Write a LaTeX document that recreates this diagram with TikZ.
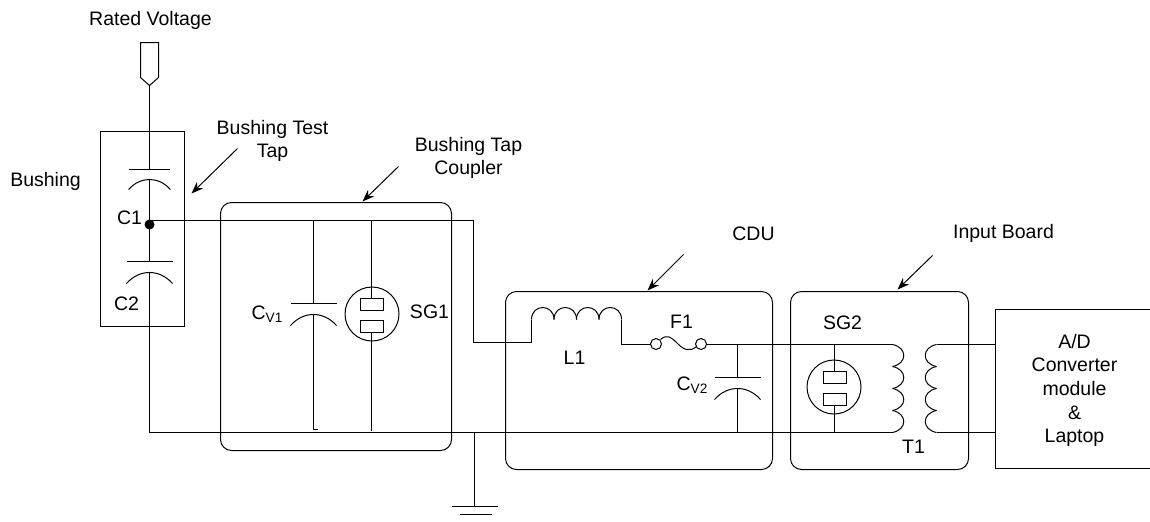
\documentclass[tikz,border=0pt]{standalone}
\usepackage{fontspec}
\setmainfont{Liberation Sans}
\usetikzlibrary{arrows.meta, positioning, calc}
\tikzset{
  lbl/.style={font=\fontsize{9.75}{11.85}\selectfont, align=center, inner sep=0pt},
  boardbox/.style={draw, rounded corners=5.5pt, minimum width=#1, inner sep=0pt, outer sep=0pt},
  gapring/.style={draw, circle, minimum size=27pt, inner sep=0pt, outer sep=0pt},
  gapplate/.style={draw, minimum width=11.5pt, minimum height=6pt, inner sep=0pt, outer sep=0pt},
  fusepin/.style={draw, circle, minimum size=5.5pt, inner sep=0pt, outer sep=0pt},
  pointer/.style={-{Stealth[length=6pt,width=4.5pt]}},
  capsym/.pic={
    \draw (-23,0) -- (23,0);
    \draw (-23,22) .. controls (-10,7.3) and (10,7.3) .. (23,22);
  }
}
\begin{document}
\begin{tikzpicture}[x=0.5pt, y=-0.5pt, line width=0.5pt]
  \useasboundingbox (0,0) rectangle (1150,521);
  \begin{scope}[shift={(-0.5,-0.5)}]

  % boxes
  \node[draw, minimum width=42pt, minimum height=97.5pt, inner sep=0pt, outer sep=0pt] (bushing) at (143,229.5) {};
  \node[boardbox=115.5pt, minimum height=124pt] (coupler) at (336.5,327) {};
  \node[boardbox=133.5pt, minimum height=89pt] (cdu) at (639.5,381) {};
  \node[boardbox=89pt, minimum height=89pt] (board) at (880,381) {};
  \coordinate (adTop) at (996,310);
  \coordinate (adBot) at (996,469);
  \draw (1151,310) -- (adTop) -- (adBot) -- (1151,469);

  % labels
  \node[lbl] (ratedLbl) at (151,21) {Rated Voltage};
  \node[lbl] (bushingLbl) at (46,182) {Bushing};
  \node[lbl] (testTapLbl) at (273,141.5) {Bushing Test\\Tap};
  \node[lbl] (couplerLbl) at (469,158.5) {Bushing Tap\\Coupler};
  \node[lbl] (cduLbl) at (754,234) {CDU};
  \node[lbl] (boardLbl) at (1004,234) {Input Board};
  \node[lbl] (c1Lbl) at (130,218) {C1};
  \node[lbl] (c2Lbl) at (127,304) {C2};
  \node[lbl] (cv1Lbl) at (268,315) {C\textsubscript{V1}};
  \node[lbl] (sg1Lbl) at (430,312) {SG1};
  \node[lbl] (l1Lbl) at (575,358) {L1};
  \node[lbl] (f1Lbl) at (682,322) {F1};
  \node[lbl] (cv2Lbl) at (693,386) {C\textsubscript{V2}};
  \node[lbl] (sg2Lbl) at (843,323) {SG2};
  \node[lbl] (t1Lbl) at (914,447) {T1};
  \node[lbl] (adLbl) at (1075,391) {A/D\\Converter\\module\\\&\\Laptop};

  % pointers
  \coordinate (testTapTail) at (238,149);
  \coordinate (testTapTip) at (192,194);
  \coordinate (couplerTail) at (399,167);
  \coordinate (couplerTip) at (363,202);
  \coordinate (cduTail) at (684,255);
  \coordinate (cduTip) at (648,291);
  \coordinate (boardTail) at (933,256);
  \coordinate (boardTip) at (898,290);
  \draw[pointer] (testTapTail) -- (testTapTip);
  \draw[pointer] (couplerTail) -- (couplerTip);
  \draw[pointer] (cduTail) -- (cduTip);
  \draw[pointer] (boardTail) -- (boardTip);

  % bushing
  \draw (141,43) -- (159,43) -- (159,78) -- (150,86) -- (141,78) -- cycle;
  \coordinate (ratedTip) at (150,86);
  \coordinate (c1Plate) at (150,170);
  \coordinate (c1Arc) at (150,179);
  \coordinate (c2Plate) at (150,262);
  \coordinate (c2Arc) at (150,273);
  \coordinate (tap) at (150,225);
  \coordinate (gndCorner) at (150,433);
  \pic[scale=0.91] at (c1Plate) {capsym};
  \pic at (c2Plate) {capsym};
  \fill (tap) circle (5);
  \draw (ratedTip) -- (c1Plate);
  \draw (c1Arc) -- (tap) -- (c2Plate);
  \draw (c2Arc) -- (gndCorner);

  % tap line and return line
  \coordinate (tapOut) at (150,221);
  \coordinate (tapCorner) at (474,221);
  \coordinate (l1In) at (532,343);
  \coordinate (primBot) at (893,433);
  \draw (tapOut) -- (tapCorner) |- (l1In);
  \draw (gndCorner) -- (primBot);

  % coupler
  \coordinate (cv1Plate) at (314,304);
  \coordinate (cv1Arc) at (314,315);
  \pic at (cv1Plate) {capsym};
  \draw (cv1Plate) -- (tapOut -| cv1Plate);
  \draw (cv1Arc) -- (314,430) -- (318,430);
  \node[gapring] (sg1) at (372.5,314.5) {};
  \node[gapplate] (sg1a) at (372,304.5) {};
  \node[gapplate] (sg1b) at (372,326.5) {};
  \draw (sg1a) -- (sg1a |- tapOut);
  \draw (sg1b) -- (372,431);

  % ground
  \coordinate (gndTap) at (475,433);
  \coordinate (gndBar) at (475,507);
  \draw (gndTap) -- (gndBar);
  \draw (452,507) -- (498,507);
  \draw (460,515) -- (492,515);

  % CDU
  \coordinate (l1Left) at (532,320);
  \coordinate (l1Right) at (622,320);
  \coordinate (l1Out) at (622,345);
  \draw (l1In) -- (l1Left);
  \foreach \i in {0,...,3} {
    \draw ({532+22.5*\i},320) .. controls +(0,-16) and +(0,-16) .. ({532+22.5*(\i+1)},320);
  }
  \node[fusepin] (fuseL) at (656.5,344.5) {};
  \node[fusepin] (fuseR) at (701.5,344.5) {};
  \draw (l1Right) -- (l1Out) -- (l1Out -| fuseL.west);
  \draw (661,340) .. controls (668,334) and (672,338) .. (678,344) .. controls (684,350) and (690,353) .. (697,347);
  \coordinate (primTop) at (893,345);
  \draw (primTop -| fuseR.east) -- (primTop);
  \coordinate (cv2Top) at (738,345);
  \coordinate (cv2Plate) at (738,378);
  \coordinate (cv2Arc) at (738,389);
  \coordinate (cv2Bot) at (738,433);
  \pic at (cv2Plate) {capsym};
  \draw (cv2Top) -- (cv2Plate);
  \draw (cv2Arc) -- (cv2Bot);

  % input board
  \node[gapring] (sg2) at (834.5,387.5) {};
  \node[gapplate] (sg2a) at (835,378) {};
  \node[gapplate] (sg2b) at (835,400) {};
  \draw (sg2a) -- (sg2a |- primTop);
  \draw (sg2b) -- (sg2b |- primBot);
  \foreach \a/\b in {345/367, 367/389, 389/411, 411/433} {
    \draw (893,\a) .. controls +(15,3) and +(15,-3) .. (893,\b);
    \draw (937,\a) .. controls +(-15,3) and +(-15,-3) .. (937,\b);
  }
  \coordinate (secTop) at (937,345);
  \coordinate (secBot) at (937,433);
  \draw (secTop) -- (secTop -| adTop);
  \draw (secBot) -- (secBot -| adBot);

  \end{scope}
\end{tikzpicture}
\end{document}
